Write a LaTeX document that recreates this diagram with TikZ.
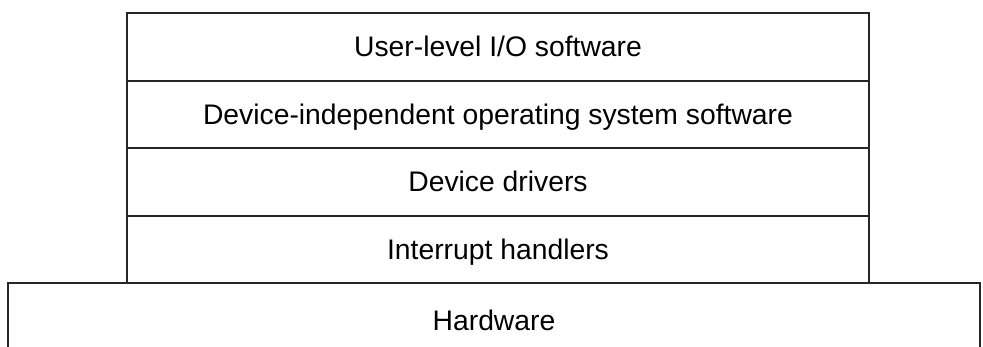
\documentclass[tikz,border=0pt]{standalone}
\usepackage{fontspec}
\setmainfont{Liberation Sans}
\usepackage{tikz}
\usetikzlibrary{positioning}
\tikzset{
	layer/.style ={rectangle, draw=black!85, line width=2pt, minimum width=742pt, minimum height=67.5pt, text centered, align=center, text height=20pt, text depth=0pt, inner sep=0pt, outer sep=0pt},
	hwbox/.style ={rectangle, draw=black!85, line width=2pt, minimum width=972pt, minimum height=74pt, text centered, text height=20pt, text depth=0pt, inner sep=0pt, outer sep=0pt},
}
\begin{document}
\begin{tikzpicture}[x=1pt, y=-1pt, font=\fontsize{28.3}{33}\selectfont]
	\useasboundingbox (0,0) rectangle (983,346);
	\clip (0,0) rectangle (983,346);
	% the software layers
	\node[layer] (user) at (498,46.75) {User-level I/O software};
	\node[layer, below=0pt of user] (indep) {Device-independent operating system software};
	\node[layer, below=0pt of indep] (drivers) {Device drivers};
	\node[layer, below=0pt of drivers] (handlers) {Interrupt handlers};
	% hardware, cut off at the bottom
	\node[hwbox, below=0pt of handlers.south, xshift=-4pt] (hw) {Hardware};
\end{tikzpicture}
\end{document}
